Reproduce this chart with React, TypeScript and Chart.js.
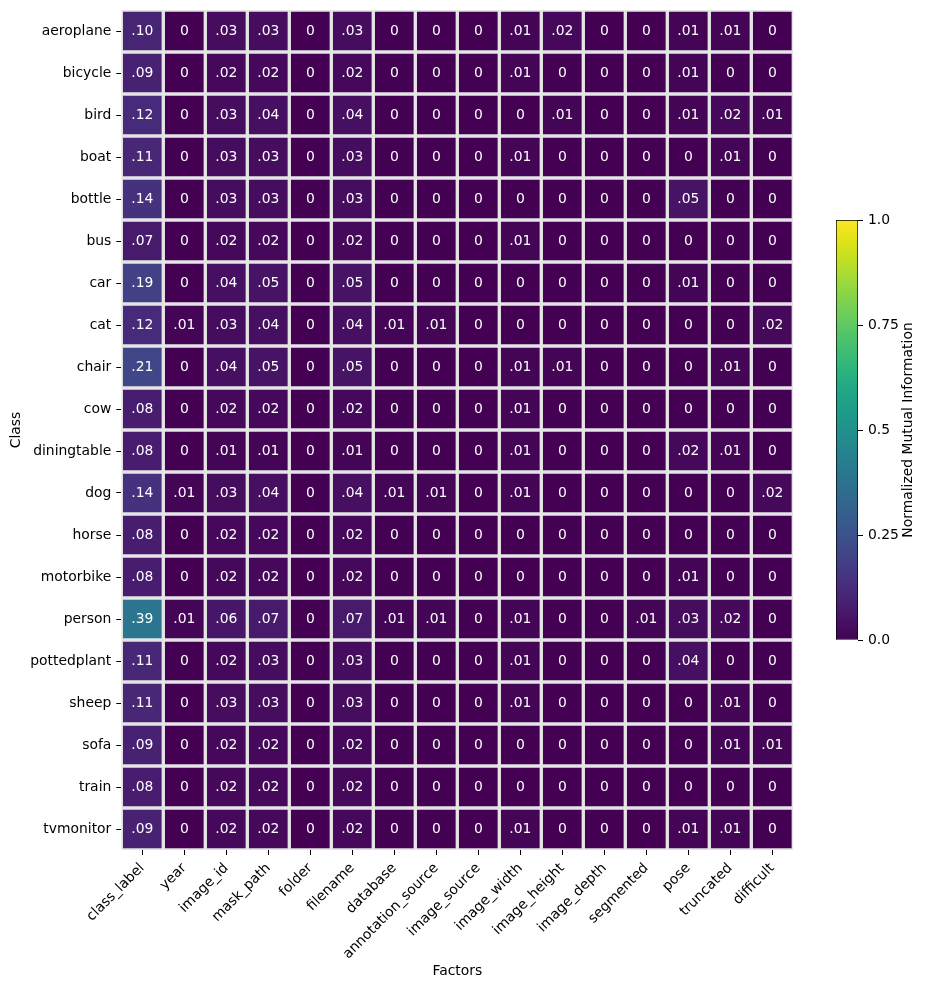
import { useEffect, useRef } from 'react';
import { Chart, registerables } from 'chart.js';

Chart.register(...registerables);

// Pascal VOC classes (rows) and dataset factors (columns)
const CLASSES = [
  'aeroplane', 'bicycle', 'bird', 'boat', 'bottle', 'bus', 'car', 'cat', 'chair', 'cow',
  'diningtable', 'dog', 'horse', 'motorbike', 'person', 'pottedplant', 'sheep', 'sofa', 'train', 'tvmonitor',
];

const FACTORS = [
  'class_label', 'year', 'image_id', 'mask_path', 'folder', 'filename', 'database', 'annotation_source',
  'image_source', 'image_width', 'image_height', 'image_depth', 'segmented', 'pose', 'truncated', 'difficult',
];

// Normalized mutual information per class, one value per factor (same order as FACTORS)
const AEROPLANE = [0.10, 0, 0.03, 0.03, 0, 0.03, 0, 0, 0, 0.01, 0.02, 0, 0, 0.01, 0.01, 0];
const BICYCLE = [0.09, 0, 0.02, 0.02, 0, 0.02, 0, 0, 0, 0.01, 0, 0, 0, 0.01, 0, 0];
const BIRD = [0.12, 0, 0.03, 0.04, 0, 0.04, 0, 0, 0, 0, 0.01, 0, 0, 0.01, 0.02, 0.01];
const BOAT = [0.11, 0, 0.03, 0.03, 0, 0.03, 0, 0, 0, 0.01, 0, 0, 0, 0, 0.01, 0];
const BOTTLE = [0.14, 0, 0.03, 0.03, 0, 0.03, 0, 0, 0, 0, 0, 0, 0, 0.05, 0, 0];
const BUS = [0.07, 0, 0.02, 0.02, 0, 0.02, 0, 0, 0, 0.01, 0, 0, 0, 0, 0, 0];
const CAR = [0.19, 0, 0.04, 0.05, 0, 0.05, 0, 0, 0, 0, 0, 0, 0, 0.01, 0, 0];
const CAT = [0.12, 0.01, 0.03, 0.04, 0, 0.04, 0.01, 0.01, 0, 0, 0, 0, 0, 0, 0, 0.02];
const CHAIR = [0.21, 0, 0.04, 0.05, 0, 0.05, 0, 0, 0, 0.01, 0.01, 0, 0, 0, 0.01, 0];
const COW = [0.08, 0, 0.02, 0.02, 0, 0.02, 0, 0, 0, 0.01, 0, 0, 0, 0, 0, 0];
const DININGTABLE = [0.08, 0, 0.01, 0.01, 0, 0.01, 0, 0, 0, 0.01, 0, 0, 0, 0.02, 0.01, 0];
const DOG = [0.14, 0.01, 0.03, 0.04, 0, 0.04, 0.01, 0.01, 0, 0.01, 0, 0, 0, 0, 0, 0.02];
const HORSE = [0.08, 0, 0.02, 0.02, 0, 0.02, 0, 0, 0, 0, 0, 0, 0, 0, 0, 0];
const MOTORBIKE = [0.08, 0, 0.02, 0.02, 0, 0.02, 0, 0, 0, 0, 0, 0, 0, 0.01, 0, 0];
const PERSON = [0.39, 0.01, 0.06, 0.07, 0, 0.07, 0.01, 0.01, 0, 0.01, 0, 0, 0.01, 0.03, 0.02, 0];
const POTTEDPLANT = [0.11, 0, 0.02, 0.03, 0, 0.03, 0, 0, 0, 0.01, 0, 0, 0, 0.04, 0, 0];
const SHEEP = [0.11, 0, 0.03, 0.03, 0, 0.03, 0, 0, 0, 0.01, 0, 0, 0, 0, 0.01, 0];
const SOFA = [0.09, 0, 0.02, 0.02, 0, 0.02, 0, 0, 0, 0, 0, 0, 0, 0, 0.01, 0.01];
const TRAIN = [0.08, 0, 0.02, 0.02, 0, 0.02, 0, 0, 0, 0, 0, 0, 0, 0, 0, 0];
const TVMONITOR = [0.09, 0, 0.02, 0.02, 0, 0.02, 0, 0, 0, 0.01, 0, 0, 0, 0.01, 0.01, 0];

const MI_ROWS = [
  AEROPLANE, BICYCLE, BIRD, BOAT, BOTTLE, BUS, CAR, CAT, CHAIR, COW,
  DININGTABLE, DOG, HORSE, MOTORBIKE, PERSON, POTTEDPLANT, SHEEP, SOFA, TRAIN, TVMONITOR,
];

const COLORBAR_TICKS = [0, 0.25, 0.5, 0.75, 1];
const COLORBAR_TICK_LABELS = ['0.0', '0.25', '0.5', '0.75', '1.0'];

// viridis colormap, sampled every 0.05
const VIRIDIS = [
  '#440154', '#471365', '#482475', '#463480', '#414487', '#3b528b', '#355f8d',
  '#2f6c8e', '#2a788e', '#25848e', '#21918c', '#1e9c89', '#22a884', '#2fb47c',
  '#44bf70', '#5ec962', '#7ad151', '#9bd93c', '#bddf26', '#dfe318', '#fde725',
];

const GAP_COLOR = '#e5e5e5';
const FONT_FAMILY = "'DejaVu Sans', sans-serif";
const FONT_SIZE = 13.9;

function hexToRgb(h: string): number[] {
  return [1, 3, 5].map((i) => parseInt(h.slice(i, i + 2), 16));
}

function viridis(v: number): string {
  const t = Math.min(1, Math.max(0, v)) * (VIRIDIS.length - 1);
  const i = Math.min(VIRIDIS.length - 2, Math.floor(t));
  const f = t - i;
  const a = hexToRgb(VIRIDIS[i]);
  const b = hexToRgb(VIRIDIS[i + 1]);
  const c = a.map((x, k) => Math.round(x + (b[k] - x) * f));
  return `rgb(${c[0]},${c[1]},${c[2]})`;
}

function formatCell(v: number): string {
  if (v === 0) return '0';
  return v.toFixed(2).replace(/^0/, '');
}

const font = { family: FONT_FAMILY, size: FONT_SIZE };

// Writes each cell's value in its centre
const cellLabels = {
  id: 'cellLabels',
  afterDatasetsDraw(chart: any) {
    const ctx = chart.ctx;
    ctx.save();
    ctx.font = `${FONT_SIZE}px ${FONT_FAMILY}`;
    ctx.fillStyle = '#ffffff';
    ctx.textAlign = 'center';
    ctx.textBaseline = 'middle';
    chart.data.datasets.forEach((_ds: any, r: number) => {
      const meta = chart.getDatasetMeta(r);
      meta.data.forEach((el: any, c: number) => {
        const { x, y, base } = el.getProps(['x', 'y', 'base'], true);
        ctx.fillText(formatCell(MI_ROWS[r][c]), x, (y + base) / 2 + 0.5);
      });
    });
    ctx.restore();
  },
};

// Vertical label beside the colorbar, reading bottom to top
const colorbarLabel = {
  id: 'colorbarLabel',
  afterDraw(chart: any) {
    const { ctx, chartArea } = chart;
    ctx.save();
    ctx.font = `${FONT_SIZE}px ${FONT_FAMILY}`;
    ctx.fillStyle = '#000';
    ctx.textAlign = 'center';
    ctx.textBaseline = 'alphabetic';
    ctx.translate(chartArea.right + 54, (chartArea.top + chartArea.bottom) / 2);
    ctx.rotate(-Math.PI / 2);
    ctx.fillText('Normalized Mutual Information', 0, 0);
    ctx.restore();
  },
};

// Keep tick-label overflow from shrinking the plotting area
function clearPadding(s: any) {
  s.paddingTop = 0;
  s.paddingBottom = 0;
  s.paddingLeft = 0;
  s.paddingRight = 0;
}

export default function App() {
  const heatRef = useRef<HTMLCanvasElement | null>(null);
  const barRef = useRef<HTMLCanvasElement | null>(null);

  useEffect(() => {
    if (!heatRef.current || !barRef.current) return;

    const datasets = MI_ROWS.map((row, r) => ({
      label: CLASSES[r],
      data: row.map(() => [r, r + 1]),
      backgroundColor: row.map((v) => viridis(v)),
      borderColor: GAP_COLOR,
      borderWidth: 2,
      borderSkipped: false,
      barPercentage: 1,
      categoryPercentage: 1,
      grouped: false,
    }));

    const heat = new Chart(heatRef.current, {
      type: 'bar',
      data: { labels: FACTORS, datasets: datasets as any },
      options: {
        animation: false,
        responsive: false,
        maintainAspectRatio: false,
        layout: { padding: { left: 4.4, top: 10, right: 132.7, bottom: 6.2 } },
        plugins: { legend: { display: false }, tooltip: { enabled: false } },
        scales: {
          x: {
            type: 'category',
            offset: true,
            grid: { offset: false, drawOnChartArea: false, tickLength: 5, color: '#000', lineWidth: 1 },
            border: { display: false },
            ticks: { autoSkip: false, maxRotation: 45, minRotation: 45, padding: 5, color: '#000', font },
            title: { display: true, text: 'Factors', color: '#000', font, padding: { top: 4, bottom: 4 } },
            afterFit: (s: any) => { s.height = 133.8; clearPadding(s); },
          },
          y: {
            type: 'linear',
            min: 0,
            max: CLASSES.length,
            reverse: true,
            afterBuildTicks: (s: any) => { s.ticks = CLASSES.map((_c, i) => ({ value: i + 0.5 })); },
            ticks: {
              autoSkip: false,
              padding: 5,
              color: '#000',
              font,
              callback: (v: any) => CLASSES[Math.floor(Number(v))],
            },
            grid: { drawOnChartArea: false, tickLength: 5, color: '#000', lineWidth: 1 },
            border: { display: false },
            title: { display: true, text: 'Class', color: '#000', font, padding: { top: 4, bottom: 4 } },
            afterFit: (s: any) => { s.width = 116.9; clearPadding(s); },
          },
        },
      } as any,
      plugins: [cellLabels],
    });

    const bar = new Chart(barRef.current, {
      type: 'bar',
      data: {
        labels: [''],
        datasets: [{
          data: [[COLORBAR_TICKS[0], COLORBAR_TICKS[COLORBAR_TICKS.length - 1]]],
          backgroundColor: (ctx: any) => {
            const area = ctx.chart.chartArea;
            if (!area) return VIRIDIS[0];
            const g = ctx.chart.ctx.createLinearGradient(0, area.bottom, 0, area.top);
            VIRIDIS.forEach((c, i) => g.addColorStop(i / (VIRIDIS.length - 1), c));
            return g;
          },
          borderColor: '#000',
          borderWidth: 1,
          borderSkipped: false,
          barPercentage: 1,
          categoryPercentage: 1,
        }] as any,
      },
      options: {
        animation: false,
        responsive: false,
        maintainAspectRatio: false,
        layout: { padding: { left: 36, top: 20, right: 0, bottom: 20 } },
        plugins: { legend: { display: false }, tooltip: { enabled: false } },
        scales: {
          x: { display: false },
          y: {
            type: 'linear',
            position: 'right',
            min: 0,
            max: 1,
            afterBuildTicks: (s: any) => { s.ticks = COLORBAR_TICKS.map((v) => ({ value: v })); },
            ticks: {
              padding: 5,
              color: '#000',
              font,
              callback: (v: any) => COLORBAR_TICK_LABELS[COLORBAR_TICKS.indexOf(Number(v))],
            },
            grid: { drawOnChartArea: false, tickLength: 5, color: '#000', lineWidth: 1 },
            border: { display: false },
            afterFit: (s: any) => { s.width = 68; clearPadding(s); },
          },
        },
      } as any,
      plugins: [colorbarLabel],
    });

    return () => {
      heat.destroy();
      bar.destroy();
    };
  }, []);

  return (
    <div style={{ position: 'absolute', left: 0, top: 0, width: 926, height: 990, background: '#fff' }}>
      <canvas
        ref={heatRef}
        width={926}
        height={990}
        style={{ position: 'absolute', left: 0, top: 0, width: 926, height: 990 }}
      />
      <canvas
        ref={barRef}
        width={126}
        height={460}
        style={{ position: 'absolute', left: 800, top: 200, width: 126, height: 460 }}
      />
    </div>
  );
}
